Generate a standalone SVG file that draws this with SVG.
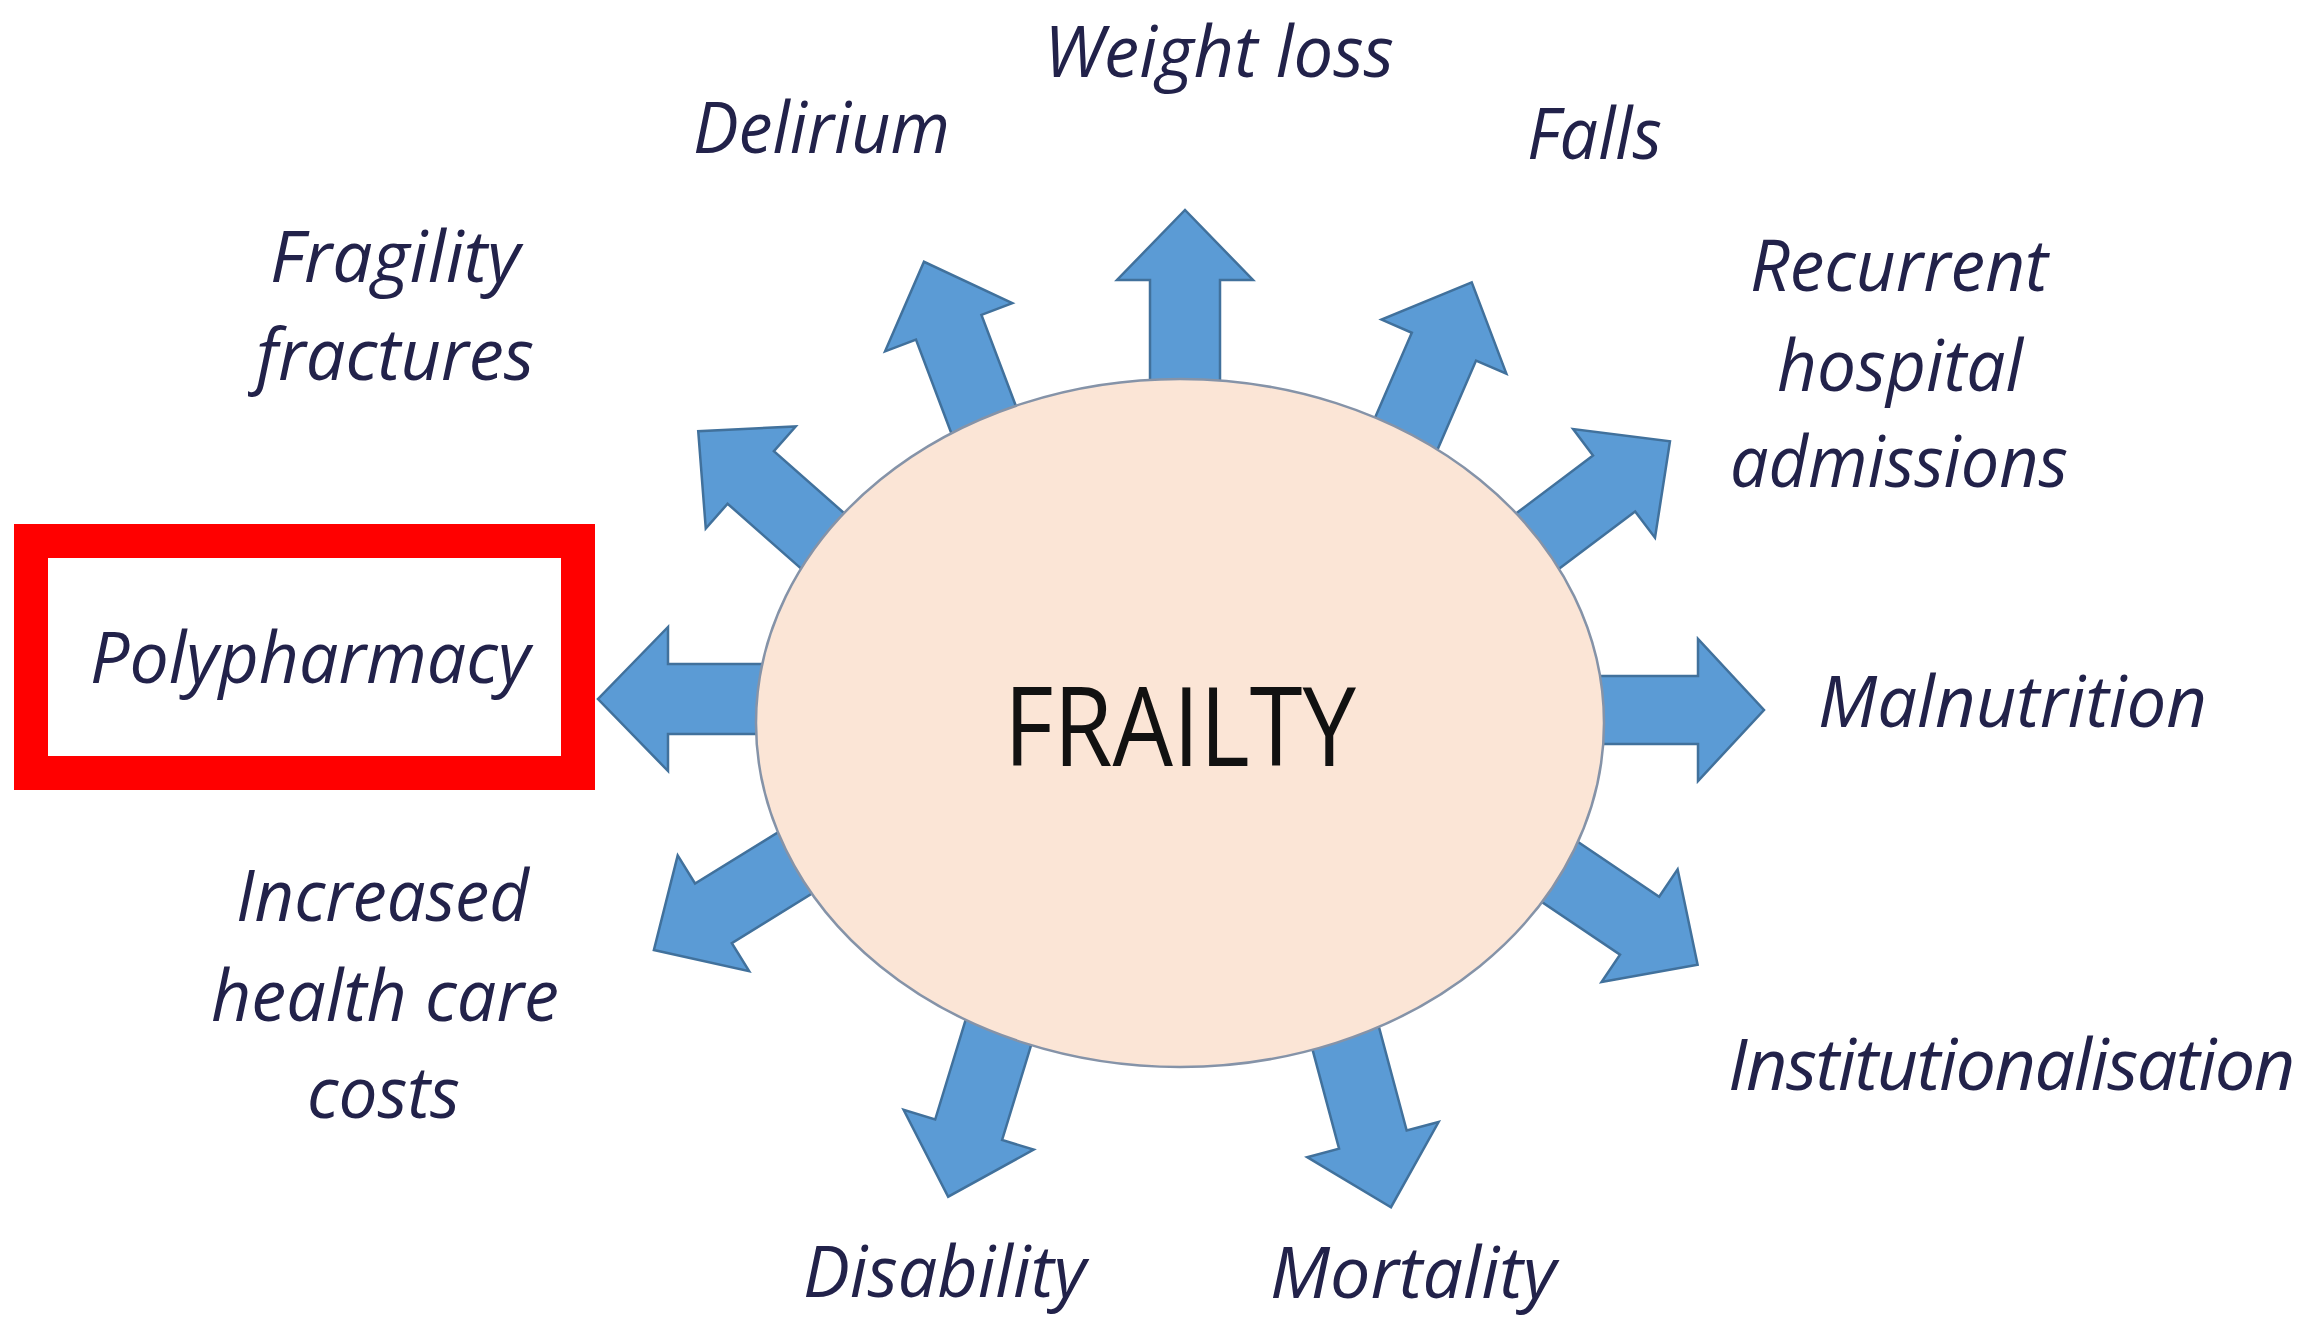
<svg xmlns="http://www.w3.org/2000/svg" width="2315" height="1320" viewBox="0 0 2315 1320">
<defs>
<style>
.lbl{font-family:"Open Sans","Liberation Sans",sans-serif;font-style:italic;font-size:72px;fill:#22224a}
.arrow{fill:#5B9BD5;stroke:#41719C;stroke-width:2.5;stroke-linejoin:miter}
.core{fill:#FBE5D6;stroke:#8593a8;stroke-width:2.5}
.title{font-family:"Open Sans","Liberation Sans",sans-serif;font-size:109px;fill:#111}
</style>
</defs>
<rect width="2315" height="1320" fill="#fff"/>
<g id="connectors">
<polygon class="arrow" transform="translate(1185,379) rotate(-90)" points="-25,-35 99,-35 99,-68 169,0 99,68 99,35 -25,35"/>
<polygon class="arrow" transform="translate(983,418) rotate(-110.7)" points="-25,-35 97,-35 97,-68 167,0 97,68 97,35 -25,35"/>
<polygon class="arrow" transform="translate(1407,432) rotate(-66.6)" points="-25,-35 93,-35 93,-68 163,0 93,68 93,35 -25,35"/>
<polygon class="arrow" transform="translate(816,535) rotate(-138.6)" points="-30,-35 87,-35 87,-68 157,0 87,68 87,35 -30,35"/>
<polygon class="arrow" transform="translate(1539,540) rotate(-37)" points="-25,-35 94,-35 94,-68 164,0 94,68 94,35 -25,35"/>
<polygon class="arrow" transform="translate(756,699) rotate(180)" points="-25,-35 88,-35 88,-72 158,0 88,72 88,35 -25,35"/>
<polygon class="arrow" transform="translate(1603,710) rotate(0)" points="-25,-34 95,-34 95,-71 161,0 95,71 95,34 -25,34"/>
<polygon class="arrow" transform="translate(790,866) rotate(148.3)" points="-30,-35 90,-35 90,-68 160,0 90,68 90,35 -30,35"/>
<polygon class="arrow" transform="translate(1560,872) rotate(34)" points="-25,-35 96,-35 96,-68 166,0 96,68 96,35 -25,35"/>
<polygon class="arrow" transform="translate(997,1037) rotate(107)" points="-30,-35 97,-35 97,-68 167,0 97,68 97,35 -30,35"/>
<polygon class="arrow" transform="translate(1347,1043) rotate(75)" points="-30,-35 100,-35 100,-68 170,0 100,68 100,35 -30,35"/>
</g>
<g id="frailty">
<ellipse class="core" cx="1180" cy="723" rx="424" ry="344"/>
<text class="title" x="1180" y="766" text-anchor="middle" textLength="352" lengthAdjust="spacingAndGlyphs">FRAILTY</text>
</g>
<g id="weight-loss"><text class="lbl" x="1044" y="77" font-size="70" textLength="350" lengthAdjust="spacingAndGlyphs">Weight loss</text></g>
<g id="delirium"><text class="lbl" x="693" y="153" textLength="257" lengthAdjust="spacingAndGlyphs">Delirium</text></g>
<g id="falls"><text class="lbl" x="1527" y="159" textLength="135" lengthAdjust="spacingAndGlyphs">Falls</text></g>
<g id="fragility-fractures">
<text class="lbl" x="270" y="282" textLength="250" lengthAdjust="spacingAndGlyphs">Fragility</text>
<text class="lbl" x="256" y="380" textLength="278" lengthAdjust="spacingAndGlyphs">fractures</text>
</g>
<g id="polypharmacy">
<rect x="31" y="541" width="547" height="232" fill="#fff" stroke="#ff0000" stroke-width="34"/>
<text class="lbl" x="90" y="683" textLength="440" lengthAdjust="spacingAndGlyphs">Polypharmacy</text>
</g>
<g id="increased-costs">
<text class="lbl" x="236" y="921" textLength="293" lengthAdjust="spacingAndGlyphs">Increased</text>
<text class="lbl" x="211" y="1021" textLength="348" lengthAdjust="spacingAndGlyphs">health care</text>
<text class="lbl" x="307" y="1118" textLength="153" lengthAdjust="spacingAndGlyphs">costs</text>
</g>
<g id="recurrent-admissions">
<text class="lbl" x="1750" y="291" textLength="298" lengthAdjust="spacingAndGlyphs">Recurrent</text>
<text class="lbl" x="1777" y="391" textLength="246" lengthAdjust="spacingAndGlyphs">hospital</text>
<text class="lbl" x="1730" y="487" textLength="338" lengthAdjust="spacingAndGlyphs">admissions</text>
</g>
<g id="malnutrition"><text class="lbl" x="1818" y="727" textLength="389" lengthAdjust="spacingAndGlyphs">Malnutrition</text></g>
<g id="institutionalisation"><text class="lbl" x="1728" y="1090" font-size="68" letter-spacing="-1.5">Institutionalisation</text></g>
<g id="disability"><text class="lbl" x="803" y="1297" textLength="283" lengthAdjust="spacingAndGlyphs">Disability</text></g>
<g id="mortality"><text class="lbl" x="1270" y="1298" font-size="70" textLength="286" lengthAdjust="spacingAndGlyphs">Mortality</text></g>
</svg>
